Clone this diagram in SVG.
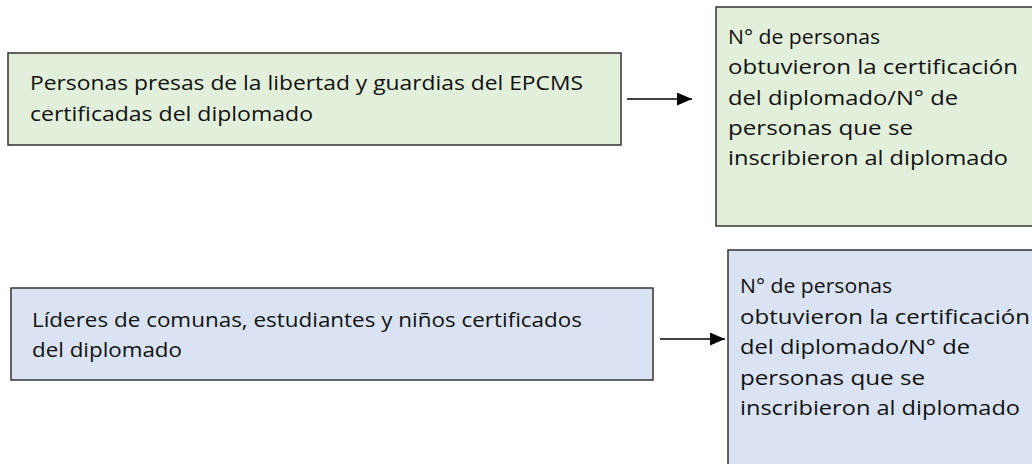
<svg xmlns="http://www.w3.org/2000/svg" width="1032" height="464" viewBox="0 0 1032 464">
<style>
.t{font-family:"Open Sans","Noto Sans","Liberation Sans",sans-serif;font-size:19.5px;fill:#111}
.g{fill:#e2efda;stroke:#333;stroke-width:1.5}
.b{fill:#dae3f3;stroke:#333;stroke-width:1.5}
.c{stroke:#000;stroke-width:1.3;fill:none}
</style>
<defs>
<marker id="ah" viewBox="0 0 15 13" refX="15" refY="6.5" markerWidth="15" markerHeight="13" markerUnits="userSpaceOnUse" orient="auto">
<path d="M0,0 L15,6.5 L0,13 Z" fill="#000"/>
</marker>
</defs>
<rect width="1032" height="464" fill="#fff"/>
<g id="n1">
<rect class="g" x="8" y="53" width="613" height="92"/>
<text class="t" x="30" y="90" textLength="553" lengthAdjust="spacingAndGlyphs">Personas presas de la libertad y guardias del EPCMS</text>
<text class="t" x="30" y="121" textLength="283" lengthAdjust="spacingAndGlyphs">certificadas del diplomado</text>
</g>
<g id="n2">
<rect class="g" x="716" y="7" width="320" height="219"/>
<text class="t" x="728" y="44" textLength="152" lengthAdjust="spacingAndGlyphs">N° de personas</text>
<text class="t" x="728" y="74" textLength="290" lengthAdjust="spacingAndGlyphs">obtuvieron la certificación</text>
<text class="t" x="728" y="105" textLength="230" lengthAdjust="spacingAndGlyphs">del diplomado/N° de</text>
<text class="t" x="728" y="135" textLength="185" lengthAdjust="spacingAndGlyphs">personas que se</text>
<text class="t" x="728" y="165" textLength="280" lengthAdjust="spacingAndGlyphs">inscribieron al diplomado</text>
</g>
<g id="n3">
<rect class="b" x="11" y="288" width="642" height="92"/>
<text class="t" x="32" y="327" textLength="550" lengthAdjust="spacingAndGlyphs">Líderes de comunas, estudiantes y niños certificados</text>
<text class="t" x="32" y="357" textLength="150" lengthAdjust="spacingAndGlyphs">del diplomado</text>
</g>
<g id="n4">
<rect class="b" x="728" y="250" width="320" height="230"/>
<text class="t" x="740" y="293" textLength="152" lengthAdjust="spacingAndGlyphs">N° de personas</text>
<text class="t" x="740" y="324" textLength="290" lengthAdjust="spacingAndGlyphs">obtuvieron la certificación</text>
<text class="t" x="740" y="354" textLength="230" lengthAdjust="spacingAndGlyphs">del diplomado/N° de</text>
<text class="t" x="740" y="385" textLength="185" lengthAdjust="spacingAndGlyphs">personas que se</text>
<text class="t" x="740" y="415" textLength="280" lengthAdjust="spacingAndGlyphs">inscribieron al diplomado</text>
</g>
<g id="connectors">
<line class="c" x1="627" y1="99" x2="692" y2="99" marker-end="url(#ah)"/>
<line class="c" x1="660" y1="339" x2="725" y2="339" marker-end="url(#ah)"/>
</g>
</svg>
